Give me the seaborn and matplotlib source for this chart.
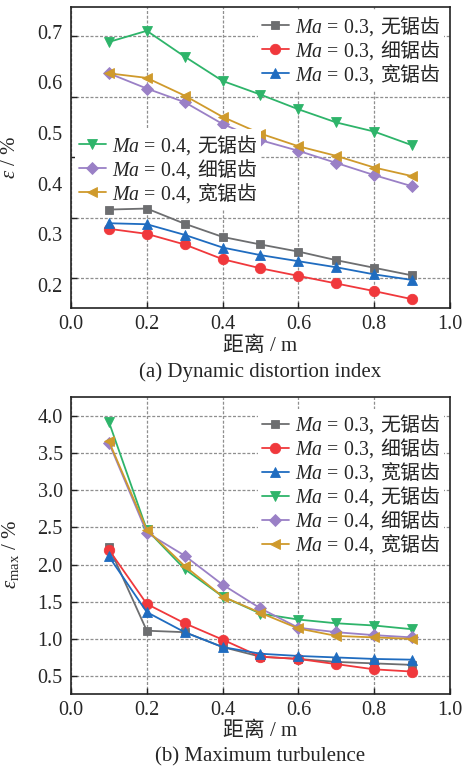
import numpy as np
import pandas as pd
import matplotlib
matplotlib.use("Agg")
import matplotlib.pyplot as plt
import seaborn as sns
from matplotlib.ticker import FixedLocator, NullFormatter

# ---------------- data ----------------
distance = [0.1, 0.2, 0.3, 0.4, 0.5, 0.6, 0.7, 0.8, 0.9]

series_labels = [
    "$Ma\\,=\\,0.3,\\;$无锯齿",
    "$Ma\\,=\\,0.3,\\;$细锯齿",
    "$Ma\\,=\\,0.3,\\;$宽锯齿",
    "$Ma\\,=\\,0.4,\\;$无锯齿",
    "$Ma\\,=\\,0.4,\\;$细锯齿",
    "$Ma\\,=\\,0.4,\\;$宽锯齿",
]

# (a) dynamic distortion index, %
eps_ma03_none = [0.349, 0.351, 0.321, 0.295, 0.280, 0.266, 0.249, 0.234, 0.219]
eps_ma03_fine = [0.311, 0.301, 0.280, 0.251, 0.233, 0.218, 0.203, 0.188, 0.172]
eps_ma03_wide = [0.322, 0.320, 0.299, 0.274, 0.259, 0.247, 0.235, 0.221, 0.210]
eps_ma04_none = [0.680, 0.702, 0.651, 0.603, 0.576, 0.547, 0.521, 0.503, 0.476]
eps_ma04_fine = [0.618, 0.588, 0.561, 0.518, 0.486, 0.465, 0.441, 0.417, 0.395]
eps_ma04_wide = [0.618, 0.609, 0.574, 0.532, 0.499, 0.474, 0.455, 0.432, 0.415]

# (b) maximum turbulence, %
emax_ma03_none = [2.24, 1.11, 1.09, 0.89, 0.76, 0.73, 0.69, 0.67, 0.65]
emax_ma03_fine = [2.20, 1.47, 1.21, 0.99, 0.76, 0.73, 0.66, 0.59, 0.56]
emax_ma03_wide = [2.11, 1.36, 1.09, 0.89, 0.80, 0.77, 0.75, 0.73, 0.72]
emax_ma04_none = [3.92, 2.47, 1.94, 1.57, 1.34, 1.26, 1.21, 1.18, 1.13]
emax_ma04_fine = [3.64, 2.43, 2.12, 1.73, 1.41, 1.15, 1.09, 1.05, 1.02]
emax_ma04_wide = [3.66, 2.47, 1.98, 1.57, 1.35, 1.14, 1.04, 1.02, 1.00]

x_ticks = [0.0, 0.2, 0.4, 0.6, 0.8, 1.0]
x_tick_labels = ["0.0", "0.2", "0.4", "0.6", "0.8", "1.0"]
a_y_ticks = [0.2, 0.3, 0.4, 0.5, 0.6, 0.7]
a_y_tick_labels = ["0.2", "0.3", "0.4", "0.5", "0.6", "0.7"]
a_grid_levels = [0.2133, 0.3317, 0.4527, 0.5705, 0.6911]
b_y_ticks = [0.5, 1.0, 1.5, 2.0, 2.5, 3.0, 3.5, 4.0]
b_y_tick_labels = ["0.5", "1.0", "1.5", "2.0", "2.5", "3.0", "3.5", "4.0"]

# ---------------- style ----------------
colors = ["#6d6e70", "#f0383c", "#1f6cc0", "#2eb46a", "#9a80c6", "#cf9a2c"]
markers = ["s", "o", "^", "v", "D", "<"]
msizes = [6, 7.5, 7.5, 7.5, 6, 7.5]
zorders = [6, 6, 6, 3, 3, 3]

sns.set_style("ticks")
plt.rcParams["font.family"] = ["Liberation Serif", "Noto Sans CJK SC", "DejaVu Sans"]
plt.rcParams["mathtext.fontset"] = "custom"
plt.rcParams["mathtext.rm"] = "Liberation Serif"
plt.rcParams["mathtext.it"] = "Liberation Serif:italic"
plt.rcParams["mathtext.bf"] = "Liberation Serif:bold"
plt.rcParams["axes.unicode_minus"] = False

fig = plt.figure(figsize=(4.64, 7.68), dpi=100)
ax_a = fig.add_axes([71 / 464, 1 - 308 / 768, 379 / 464, 301 / 768])
ax_b = fig.add_axes([71 / 464, 1 - 694 / 768, 379 / 464, 297.3 / 768])

tick_fs = 14.5
leg_fs = 14.3
lab_fs = 15
grid_ls = (0, (2.4, 1.4))
grid_col = "#8f8f8f"

leg_kw = dict(prop={"family": "Noto Sans CJK SC", "size": leg_fs},
              frameon=True, facecolor="white", edgecolor="none", framealpha=1,
              fancybox=False, handlelength=1.35, handletextpad=0.3,
              labelspacing=0.0, borderpad=0.2, borderaxespad=0.0)


def draw(ax, series):
    frames = []
    for lab, vals in zip(series_labels, series):
        frames.append(pd.DataFrame({"distance": distance, "value": vals, "case": lab}))
    df = pd.concat(frames, ignore_index=True)
    for lab, c, m, ms, z in zip(series_labels, colors, markers, msizes, zorders):
        sub = df[df["case"] == lab]
        sns.lineplot(data=sub, x="distance", y="value", ax=ax, color=c,
                     marker=m, markersize=ms, markeredgecolor=c, markeredgewidth=0.6,
                     linewidth=1.3, label=lab, legend=False, zorder=z)


def style_axes(ax, label_y):
    for sp in ax.spines.values():
        sp.set_linewidth(1.2)
        sp.set_color("#222222")
    ax.set_xlim(0.0, 1.0)
    ax.set_xticks(x_ticks)
    ax.set_xticklabels(x_tick_labels)
    ax.tick_params(axis="both", which="both", direction="in", labelsize=tick_fs,
                   color="#222222", width=1.0)
    ax.tick_params(axis="x", which="major", length=4, pad=5)
    ax.grid(True, axis="x", which="major", linestyle=grid_ls, color=grid_col, linewidth=0.9)
    ax.set_xlabel("距离 / m", fontsize=lab_fs)
    ax.xaxis.set_label_coords(0.5, label_y)
    ax.xaxis.label.set_va("center")


# (a)
draw(ax_a, [eps_ma03_none, eps_ma03_fine, eps_ma03_wide, eps_ma04_none, eps_ma04_fine, eps_ma04_wide])
style_axes(ax_a, -(346.5 - 308) / 301)
ax_a.set_ylim(0.1546, 0.749)
ax_a.set_yticks(a_y_ticks)
ax_a.set_yticklabels(a_y_tick_labels)
ax_a.yaxis.set_minor_locator(FixedLocator(a_grid_levels))
ax_a.yaxis.set_minor_formatter(NullFormatter())
ax_a.tick_params(axis="y", which="major", length=0, pad=6)
ax_a.tick_params(axis="y", which="minor", length=4, direction="in")
ax_a.grid(True, axis="y", which="minor", linestyle=grid_ls, color=grid_col, linewidth=0.9)
ax_a.set_ylabel("$\\varepsilon$ / %", fontsize=lab_fs)
ax_a.yaxis.set_label_coords(-(71 - 20) / 379, 0.5)

h, l = ax_a.get_legend_handles_labels()
leg1 = ax_a.legend(h[:3], l[:3], loc="upper right", bbox_to_anchor=(0.985, 0.99), **leg_kw)
ax_a.add_artist(leg1)
leg2 = ax_a.legend(h[3:], l[3:], loc="upper left", bbox_to_anchor=(0.01, 0.595), **leg_kw)

# (b)
draw(ax_b, [emax_ma03_none, emax_ma03_fine, emax_ma03_wide, emax_ma04_none, emax_ma04_fine, emax_ma04_wide])
style_axes(ax_b, -(731.5 - 694) / 297.3)
ax_b.set_ylim(0.258, 4.26)
ax_b.set_yticks(b_y_ticks)
ax_b.set_yticklabels(b_y_tick_labels)
ax_b.tick_params(axis="y", which="major", length=4, pad=6)
ax_b.grid(True, axis="y", which="major", linestyle=grid_ls, color=grid_col, linewidth=0.9)
ax_b.set_ylabel("$\\varepsilon_{\\mathrm{max}}$ / %", fontsize=lab_fs)
ax_b.yaxis.set_label_coords(-(71 - 21) / 379, 0.47)
hb, lb = ax_b.get_legend_handles_labels()
ax_b.legend(hb, lb, loc="upper right", bbox_to_anchor=(0.985, 0.96), **leg_kw)

fig.text(260 / 464, 1 - 372.5 / 768, "(a) Dynamic distortion index", ha="center", va="center", fontsize=lab_fs)
fig.text(260 / 464, 1 - 756.5 / 768, "(b) Maximum turbulence", ha="center", va="center", fontsize=lab_fs)

fig.savefig("out.png", dpi=100, facecolor="white")
